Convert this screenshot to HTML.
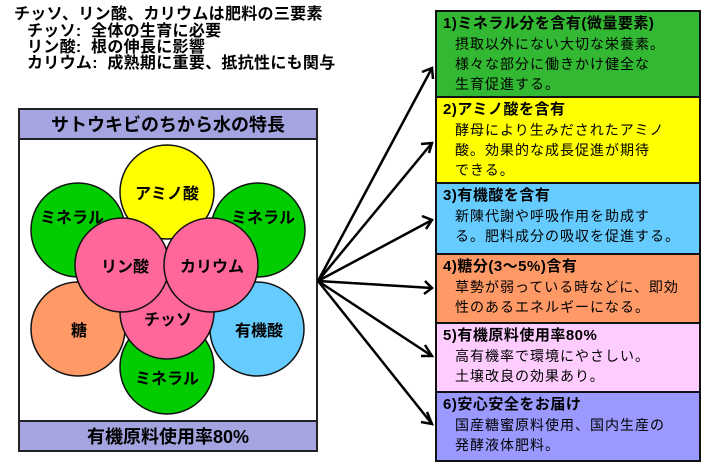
<!DOCTYPE html>
<html><head><meta charset="utf-8"><style>
body{margin:0;width:720px;height:468px;background:#fff;position:relative;overflow:hidden;font-family:"Liberation Sans","Noto Sans CJK JP",sans-serif;}
.t{position:absolute;font-weight:bold;font-size:16px;white-space:nowrap;line-height:16px;letter-spacing:0.3px}
.box{position:absolute;left:435px;width:266px;border:2px solid #111;box-sizing:border-box;font-size:14px;line-height:20px;padding:2px 6px;white-space:nowrap}
.box b{display:block;font-size:15px;letter-spacing:0.5px}
.box div{padding-left:12px;letter-spacing:1px}
</style></head><body>
<div class="t" style="left:14px;top:7px">チッソ、リン酸、カリウムは肥料の三要素</div>
<div class="t" style="left:27px;top:24px">チッソ:&nbsp; 全体の生育に必要</div>
<div class="t" style="left:27px;top:40px">リン酸:&nbsp; 根の伸長に影響</div>
<div class="t" style="left:27px;top:56px">カリウム:&nbsp; 成熟期に重要、抵抗性にも関与</div>

<svg width="720" height="468" style="position:absolute;left:0;top:0" font-family="Liberation Sans, Noto Sans CJK JP, sans-serif" font-weight="bold" font-size="16">
<rect x="19" y="109" width="298" height="342" fill="#fff" stroke="#222" stroke-width="2"/>
<rect x="19" y="109" width="298" height="30" fill="#a4a4e0" stroke="#222" stroke-width="2"/>
<rect x="19" y="421" width="298" height="30" fill="#a4a4e0" stroke="#222" stroke-width="2"/>
<text x="168" y="131" text-anchor="middle" font-size="18">サトウキビのちから水の特長</text>
<text x="168" y="443" text-anchor="middle" font-size="18">有機原料使用率80%</text>
<g stroke="#111" stroke-width="1.5">
<circle cx="78" cy="230" r="47" fill="#00cc00"/>
<circle cx="258" cy="230" r="47" fill="#00cc00"/>
<circle cx="167" cy="192" r="47" fill="#ffff00"/>
<circle cx="78" cy="329" r="47" fill="#ff9966"/>
<circle cx="257" cy="329" r="47" fill="#66ccff"/>
<circle cx="167" cy="367" r="47" fill="#00cc00"/>
<circle cx="167" cy="312" r="47" fill="#ff6699"/>
<circle cx="122" cy="265" r="47" fill="#ff6699"/>
<circle cx="211" cy="265" r="47" fill="#ff6699"/>
</g>
<text x="167" y="199" text-anchor="middle">アミノ酸</text>
<text x="72" y="223" text-anchor="middle">ミネラル</text>
<text x="263" y="223" text-anchor="middle">ミネラル</text>
<text x="125" y="272" text-anchor="middle">リン酸</text>
<text x="212" y="272" text-anchor="middle">カリウム</text>
<text x="168" y="325" text-anchor="middle">チッソ</text>
<text x="79" y="336" text-anchor="middle">糖</text>
<text x="259" y="336" text-anchor="middle">有機酸</text>
<text x="167" y="384" text-anchor="middle">ミネラル</text>
<g stroke="#000" stroke-width="2.5" fill="none">
<line x1="318" y1="281" x2="432" y2="68"/>
<line x1="318" y1="281" x2="432" y2="143"/>
<line x1="318" y1="281" x2="432" y2="220"/>
<line x1="318" y1="281" x2="432" y2="288"/>
<line x1="318" y1="281" x2="432" y2="356"/>
<line x1="318" y1="281" x2="432" y2="424"/>
<polyline points="422,72 432,68 433,79"/>
<polyline points="421,144 432,143 429,153"/>
<polyline points="422,216 432,220 426,229"/>
<polyline points="425,281 432,288 424,294"/>
<polyline points="425,345 432,356 421,356"/>
<polyline points="427,412 432,424 421,422"/>
</g>
</svg>

<div class="box" style="top:10px;height:88px;background:#33b833"><b>1)ミネラル分を含有(微量要素)</b><div>摂取以外にない大切な栄養素。<br>様々な部分に働きかけ健全な<br>生育促進する。</div></div>
<div class="box" style="top:96px;height:88px;background:#ffff00"><b>2)アミノ酸を含有</b><div>酵母により生みだされたアミノ<br>酸。効果的な成長促進が期待<br>できる。</div></div>
<div class="box" style="top:182px;height:73px;background:#66ccff"><b>3)有機酸を含有</b><div>新陳代謝や呼吸作用を助成す<br>る。肥料成分の吸収を促進する。</div></div>
<div class="box" style="top:253px;height:71px;background:#ff9966"><b>4)糖分(3～5%)含有</b><div>草勢が弱っている時などに、即効<br>性のあるエネルギーになる。</div></div>
<div class="box" style="top:322px;height:71px;background:#ffccff"><b>5)有機原料使用率80%</b><div>高有機率で環境にやさしい。<br>土壌改良の効果あり。</div></div>
<div class="box" style="top:391px;height:71px;background:#9999ff"><b>6)安心安全をお届け</b><div>国産糖蜜原料使用、国内生産の<br>発酵液体肥料。</div></div>
</body></html>
